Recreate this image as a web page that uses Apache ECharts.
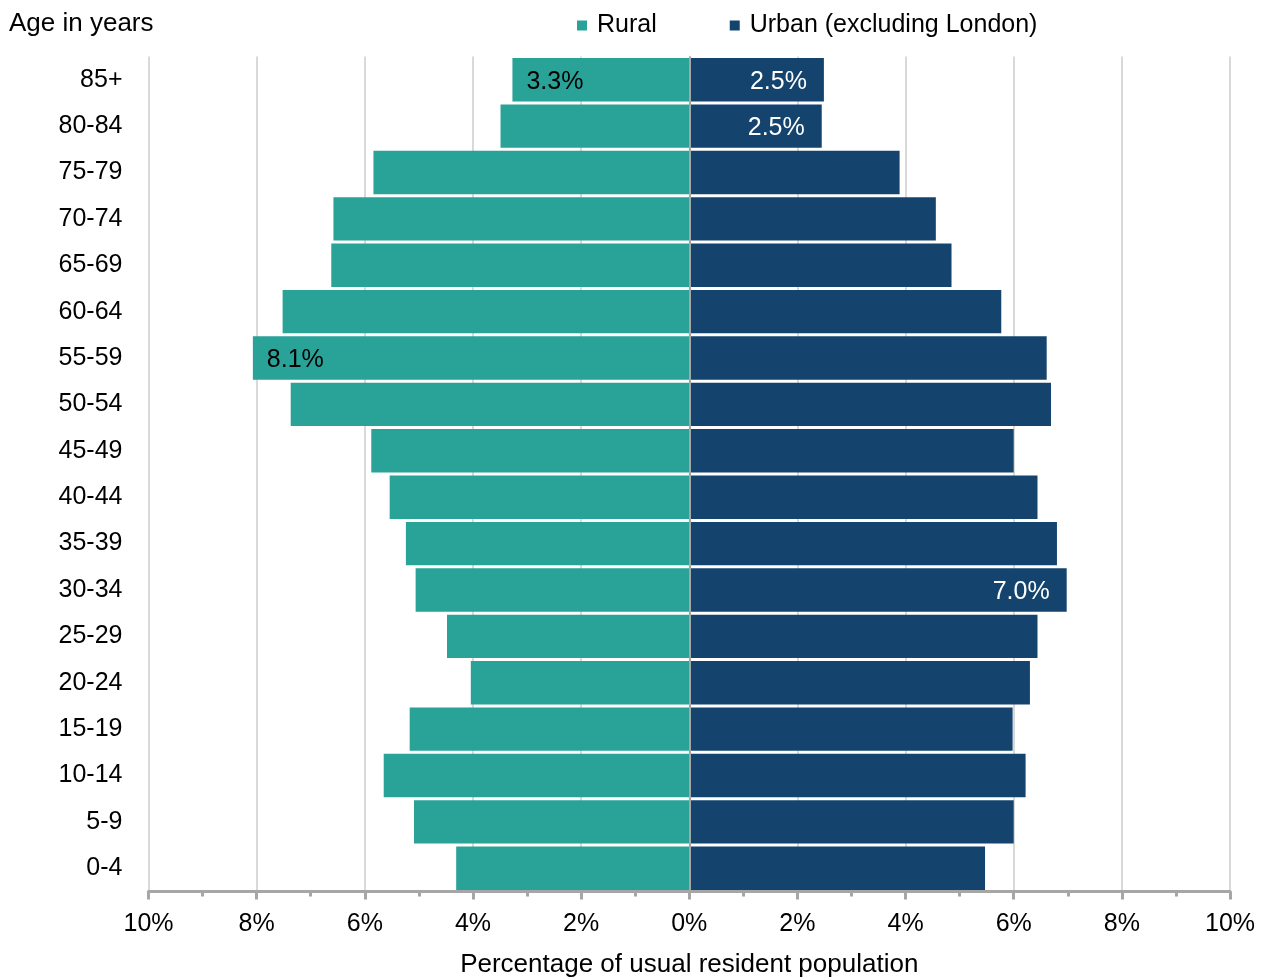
<!DOCTYPE html>
<html>
<head>
<meta charset="utf-8">
<script src="https://cdn.jsdelivr.net/npm/echarts@6/dist/echarts.min.js"></script>
<style>
html,body{margin:0;padding:0;background:#fff;}
#chart{width:1264px;height:977px;}
</style>
</head>
<body>
<div id="chart"></div>
<script>
const ageGroups = ['85+','80-84','75-79','70-74','65-69','60-64','55-59','50-54','45-49','40-44','35-39','30-34','25-29','20-24','15-19','10-14','5-9','0-4'];
const rural = [3.27, 3.49, 5.84, 6.58, 6.62, 7.52, 8.07, 7.37, 5.88, 5.54, 5.24, 5.06, 4.48, 4.04, 5.17, 5.65, 5.09, 4.31];
const urban = [2.49, 2.45, 3.89, 4.56, 4.85, 5.77, 6.61, 6.69, 6.0, 6.44, 6.8, 6.98, 6.44, 6.3, 5.98, 6.22, 6.0, 5.47];
const ruralLabelled = ['85+','55-59'];
const urbanLabelled = ['85+','80-84','30-34'];
const seriesNames = ['Rural','Urban (excluding London)'];
const xTitle = 'Percentage of usual resident population';
const yTitle = 'Age in years';

const FONT = '"Liberation Sans", Arial, sans-serif';
const chart = echarts.init(document.getElementById('chart'), null, {renderer:'canvas'});

const ruralData = rural.map((v, i) => ({
  value: -v,
  label: {
    show: ruralLabelled.includes(ageGroups[i]),
    position: 'insideLeft',
    distance: 14,
    color: '#000',
    fontSize: 25,
    fontFamily: FONT,
    offset: [0, 2],
    formatter: () => v.toFixed(1) + '%'
  }
}));
const urbanData = urban.map((v, i) => ({
  value: v,
  label: {
    show: urbanLabelled.includes(ageGroups[i]),
    position: 'insideRight',
    distance: 17,
    color: '#fff',
    fontSize: 25,
    fontFamily: FONT,
    offset: [0, 2],
    formatter: () => v.toFixed(1) + '%'
  }
}));

chart.setOption({
  animation: false,
  textStyle: {fontFamily: FONT},
  title: {
    text: yTitle,
    left: 4, top: 6,
    textStyle: {fontSize: 26, fontWeight: 'normal', color: '#000', fontFamily: FONT}
  },
  legend: {
    left: 572, top: 8,
    itemWidth: 10, itemHeight: 10, itemGap: 73,
    icon: 'rect',
    textStyle: {fontSize: 25, color: '#000', fontFamily: FONT, padding: [0,0,0,5]},
    data: seriesNames
  },
  grid: {left: 148.5, right: 34, top: 56.5, bottom: 85.5, containLabel: false, outerBoundsMode: 'none'},
  xAxis: {
    type: 'value',
    min: -10, max: 10, interval: 2,
    name: xTitle,
    nameLocation: 'middle',
    nameGap: 60,
    nameTextStyle: {fontSize: 26, color: '#000', fontFamily: FONT},
    axisLine: {show: true, lineStyle: {color: '#a6a6a6', width: 3}},
    axisTick: {show: true, length: 8, lineStyle: {color: '#a6a6a6', width: 3}},
    minorTick: {show: true, splitNumber: 2, length: 5, lineStyle: {color: '#a6a6a6', width: 3}},
    axisLabel: {
      fontSize: 25, color: '#000', margin: 20, fontFamily: FONT,
      formatter: v => Math.abs(v) + '%'
    },
    splitLine: {show: true, lineStyle: {color: '#d9d9d9', width: 2}}
  },
  yAxis: {
    type: 'category',
    data: ageGroups,
    inverse: true,
    axisLine: {show: false},
    axisTick: {show: false},
    axisLabel: {fontSize: 25, color: '#000', margin: 26, fontFamily: FONT},
    splitLine: {show: false}
  },
  series: [
    {
      name: seriesNames[0],
      type: 'bar',
      stack: 'pyr',
      data: ruralData,
      barCategoryGap: '6.5%',
      itemStyle: {color: '#29a298'}
    },
    {
      name: seriesNames[1],
      type: 'bar',
      stack: 'pyr',
      data: urbanData,
      barCategoryGap: '6.5%',
      itemStyle: {color: '#14446e'},
      markLine: {
        silent: true,
        symbol: 'none',
        label: {show: false},
        lineStyle: {color: '#a6a6a6', width: 2, type: 'solid'},
        data: [{xAxis: 0}]
      }
    }
  ]
});
</script>
</body>
</html>
